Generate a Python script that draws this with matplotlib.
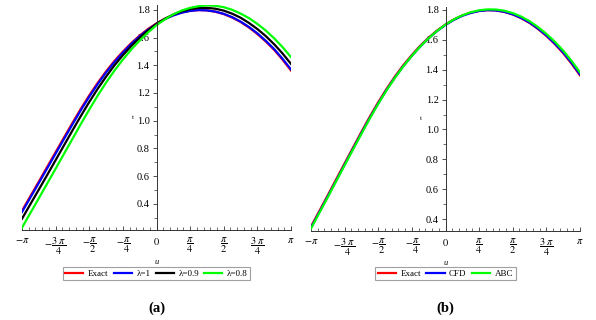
import numpy as np
import matplotlib
matplotlib.use('Agg')
import matplotlib.pyplot as plt
from matplotlib.ticker import MultipleLocator, FixedLocator

plt.rcParams['font.family'] = ['Liberation Serif', 'DejaVu Serif']
plt.rcParams['mathtext.fontset'] = 'stix'

# u sampled every pi/16 from -pi to pi
u = np.linspace(-np.pi, np.pi, 33)

# values
exact = [0.350, 0.455, 0.560, 0.667, 0.773, 0.879, 0.984, 1.086, 1.183,
         1.273, 1.356, 1.432, 1.499, 1.561, 1.615, 1.663, 1.703, 1.737,
         1.763, 1.782, 1.794, 1.799, 1.797, 1.787, 1.770, 1.745, 1.713,
         1.673, 1.626, 1.572, 1.511, 1.440, 1.362]
lam_1 = [0.340, 0.445, 0.550, 0.656, 0.762, 0.868, 0.973, 1.076, 1.173,
         1.264, 1.348, 1.424, 1.492, 1.555, 1.610, 1.658, 1.699, 1.734,
         1.760, 1.780, 1.793, 1.799, 1.797, 1.788, 1.772, 1.748, 1.716,
         1.677, 1.631, 1.577, 1.517, 1.447, 1.370]
lam_09 = [0.291, 0.397, 0.502, 0.608, 0.715, 0.822, 0.929, 1.034, 1.135,
          1.230, 1.318, 1.400, 1.473, 1.539, 1.599, 1.652, 1.699, 1.736,
          1.767, 1.790, 1.806, 1.814, 1.815, 1.809, 1.795, 1.773, 1.744,
          1.706, 1.662, 1.611, 1.552, 1.485, 1.410]
lam_08 = [0.227, 0.333, 0.439, 0.546, 0.653, 0.761, 0.868, 0.976, 1.080,
          1.181, 1.275, 1.362, 1.441, 1.514, 1.579, 1.638, 1.690, 1.732,
          1.768, 1.796, 1.815, 1.827, 1.833, 1.830, 1.820, 1.801, 1.774,
          1.741, 1.699, 1.651, 1.595, 1.531, 1.459]
cfd = [0.342, 0.447, 0.552, 0.658, 0.765, 0.871, 0.976, 1.078, 1.175,
       1.266, 1.349, 1.425, 1.493, 1.556, 1.611, 1.659, 1.700, 1.734,
       1.761, 1.780, 1.793, 1.799, 1.797, 1.788, 1.771, 1.747, 1.716,
       1.676, 1.630, 1.576, 1.516, 1.446, 1.368]
abc = [0.337, 0.442, 0.547, 0.654, 0.760, 0.866, 0.971, 1.074, 1.172,
       1.263, 1.347, 1.424, 1.493, 1.556, 1.611, 1.660, 1.702, 1.737,
       1.764, 1.785, 1.798, 1.804, 1.803, 1.795, 1.779, 1.756, 1.725,
       1.686, 1.640, 1.588, 1.528, 1.459, 1.382]

xtick_pos = np.arange(-4, 5) * np.pi / 4
xtick_labels = [r'$-\pi$', r'$-\dfrac{3\ \pi}{4}$', r'$-\dfrac{\pi}{2}$', r'$-\dfrac{\pi}{4}$',
                r'$0$', r'$\dfrac{\pi}{4}$', r'$\dfrac{\pi}{2}$', r'$\dfrac{3\ \pi}{4}$', r'$\pi$']

panels = [
    dict(pos=[22 / 596, 90 / 320, 269 / 596, 224.9 / 320], ylim=(0.21, 1.835),
         series=[(exact, '#ff0000', 'Exact'), (lam_1, '#0000ff', 'λ=1'),
                 (lam_09, '#000000', 'λ=0.9'), (lam_08, '#00ff00', 'λ=0.8')],
         tag='(a)', tx=0.413),
    dict(pos=[311 / 596, 89 / 320, 269 / 596, 224 / 320], ylim=(0.32, 1.82),
         series=[(exact, '#ff0000', 'Exact'), (cfd, '#0000ff', 'CFD'),
                 (abc, '#00ff00', 'ABC')],
         tag='(b)', tx=0.409),
]

fig = plt.figure(figsize=(5.96, 3.2), dpi=100)

for p in panels:
    ax = fig.add_axes(p['pos'])
    for vals, col, name in p['series']:
        ax.plot(u, vals, color=col, lw=1.6, label=name)
    ax.set_xlim(-np.pi, np.pi)
    ax.set_ylim(*p['ylim'])

    ax.spines['top'].set_visible(False)
    ax.spines['right'].set_visible(False)
    ax.spines['left'].set_position(('data', 0))
    for s in ['left', 'bottom']:
        ax.spines[s].set_linewidth(0.7)
        ax.spines[s].set_color('#333333')

    ax.xaxis.set_major_locator(FixedLocator(xtick_pos))
    ax.set_xticklabels(xtick_labels)
    ax.xaxis.set_minor_locator(MultipleLocator(np.pi / 20))
    ax.yaxis.set_major_locator(MultipleLocator(0.2))
    ax.yaxis.set_minor_locator(MultipleLocator(0.1))
    ax.tick_params(axis='x', which='major', direction='in', length=3, width=0.6,
                   labelsize=7.5, pad=4, color='#333333')
    ax.tick_params(axis='x', which='minor', direction='in', length=2, width=0.5,
                   color='#333333')
    ax.tick_params(axis='y', which='major', direction='out', length=3, width=0.6,
                   labelsize=7.5, pad=2, color='#333333')
    ax.tick_params(axis='y', which='minor', direction='out', length=2, width=0.5,
                   color='#333333')

    ax.set_xlabel('u', fontsize=6, style='italic')
    ax.xaxis.set_label_coords(0.5, -0.125)
    ax.set_ylabel('t', fontsize=5, rotation=0)
    ax.yaxis.set_label_coords(p['tx'], 0.49)

    cx = p['pos'][0] + p['pos'][2] / 2
    leg = ax.legend(loc='center', bbox_to_anchor=(cx, 46.5 / 320),
                    bbox_transform=fig.transFigure, ncol=len(p['series']),
                    fontsize=6.5, frameon=True, fancybox=False,
                    handlelength=2.0, handletextpad=0.5, columnspacing=0.6,
                    borderpad=0.3, borderaxespad=0)
    leg.get_frame().set_edgecolor('#888888')
    leg.get_frame().set_linewidth(0.8)

    fig.text(cx, 12 / 320, p['tag'], ha='center', va='center',
             fontsize=10.5, fontweight='bold')

fig.savefig('out.png', dpi=100)
